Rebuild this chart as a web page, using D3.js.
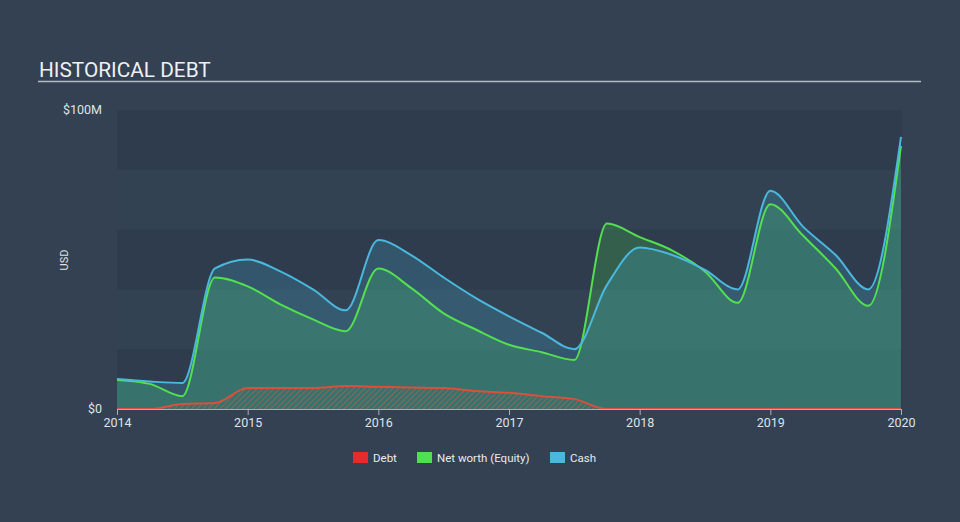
<!DOCTYPE html>
<html><head><meta charset="utf-8">
<script src="https://cdn.jsdelivr.net/npm/d3@7"></script>
<style>
html,body{margin:0;padding:0;background:#334152;}
svg{display:block;font-family:Roboto,"Open Sans",sans-serif;}
</style></head>
<body><svg id="c" width="960" height="522"></svg>
<script>
const dates = [2014.0,2014.25,2014.5,2014.75,2015.0,2015.25,2015.5,2015.75,2016.0,2016.25,2016.5,2016.75,2017.0,2017.25,2017.5,2017.75,2018.0,2018.25,2018.5,2018.75,2019.0,2019.25,2019.5,2019.75,2020.0];
const debt   = [0,0,1.7,2,7,7,7,7.7,7.4,7.2,7,6,5.4,4.3,3.3,0,0,0,0,0,0,0,0,0,0];
const equity = [9.7,8.4,4.3,44,41,35,30,26,47,40.5,32,26.5,21.5,19,16.4,62,57.5,53,46,35.5,68.5,58,47,34.5,88];
const cash   = [10,9.2,8.7,47,50,46,40,33,56.5,51.5,44,37,31,25.5,20,41.5,54,51.5,46.5,40,73,61,51.5,40,91];
const yTicks = [0,100];
const xTicks = [2014,2015,2016,2017,2018,2019,2020];

const svg = d3.select("#c");
const W=960,H=522;
svg.append("rect").attr("width",W).attr("height",H).attr("fill","#334152");

const x = d3.scaleLinear().domain([2014,2020]).range([117,901]);
const y = d3.scaleLinear().domain([0,100]).range([409,110]);

// bands
const bands=[0,20,40,60,80];
svg.selectAll("rect.band").data(bands).enter().append("rect")
 .attr("x",117).attr("width",785)
 .attr("y",d=>y(d+20)).attr("height",d=>y(d)-y(d+20))
 .attr("fill",(d,i)=> (i%2===0)?"#2f3c4d":"#334253");

// title
svg.append("text").attr("x",39).attr("y",77).text("HISTORICAL DEBT")
 .attr("fill","#eef0f2").attr("font-size",20.8);
svg.append("line").attr("x1",38).attr("x2",921).attr("y1",81.5).attr("y2",81.5)
 .attr("stroke","#b4bac2").attr("stroke-width",1.5);

// defs hatch
const defs=svg.append("defs");
const pat=defs.append("pattern").attr("id","hatch").attr("patternUnits","userSpaceOnUse")
 .attr("width",4).attr("height",4).attr("patternTransform","rotate(45)");
pat.append("line").attr("x1",0).attr("y1",0).attr("x2",0).attr("y2",4)
 .attr("stroke","#c0604e").attr("stroke-width",1.6);

const pts = a => dates.map((d,i)=>[d,a[i]]);
const curve=d3.curveMonotoneX;
const area=d3.area().x(d=>x(d[0])).y0(y(0)).y1(d=>y(d[1])).curve(curve);
const line=d3.line().x(d=>x(d[0])).y(d=>y(d[1])).curve(curve);

svg.append("path").attr("d",area(pts(equity))).attr("fill","#4fe04f").attr("fill-opacity",0.22);
svg.append("path").attr("d",area(pts(cash))).attr("fill","#45b8dc").attr("fill-opacity",0.22);
svg.append("path").attr("d",area(pts(debt))).attr("fill","url(#hatch)").attr("fill-opacity",0.75);
svg.append("path").attr("d",line(pts(debt))).attr("fill","none").attr("stroke","#d9503c").attr("stroke-width",2);
svg.append("path").attr("d",line(pts(equity))).attr("fill","none").attr("stroke","#53e04f").attr("stroke-width",2);
svg.append("path").attr("d",line(pts(cash))).attr("fill","none").attr("stroke","#4ab8dc").attr("stroke-width",2);

// x axis
const xa=svg.append("g").attr("transform","translate(0,409)")
 .call(d3.axisBottom(x).tickValues(xTicks).tickFormat(d3.format("d")).tickSize(6).tickPadding(3));
xa.select(".domain").attr("stroke","#a9b0b9");
xa.selectAll(".tick line").attr("stroke","#a9b0b9");
xa.selectAll("text").attr("fill","#dfe3e7").attr("font-size",12.5).attr("font-family","Roboto,sans-serif");

// y labels
svg.selectAll("text.yl").data(yTicks).enter().append("text")
 .attr("x",102).attr("y",d=>y(d)+4).attr("text-anchor","end")
 .attr("fill","#dfe3e7").attr("font-size",12.5)
 .text(d=> d===0?"$0":"$"+d+"M");
svg.append("text").attr("transform","translate(68,260) rotate(-90)").attr("text-anchor","middle")
 .attr("fill","#dfe3e7").attr("font-size",11).text("USD");

// legend
const leg=[["Debt","#e52b2b",353],["Net worth (Equity)","#4fe04f",417],["Cash","#4ab8dc",550]];
leg.forEach(([t,c,lx])=>{
 svg.append("rect").attr("x",lx).attr("y",452).attr("width",15).attr("height",11).attr("fill",c);
 svg.append("text").attr("x",lx+20).attr("y",461.5).attr("fill","#e8ebee").attr("font-size",11.5).text(t);
});
</script></body></html>
